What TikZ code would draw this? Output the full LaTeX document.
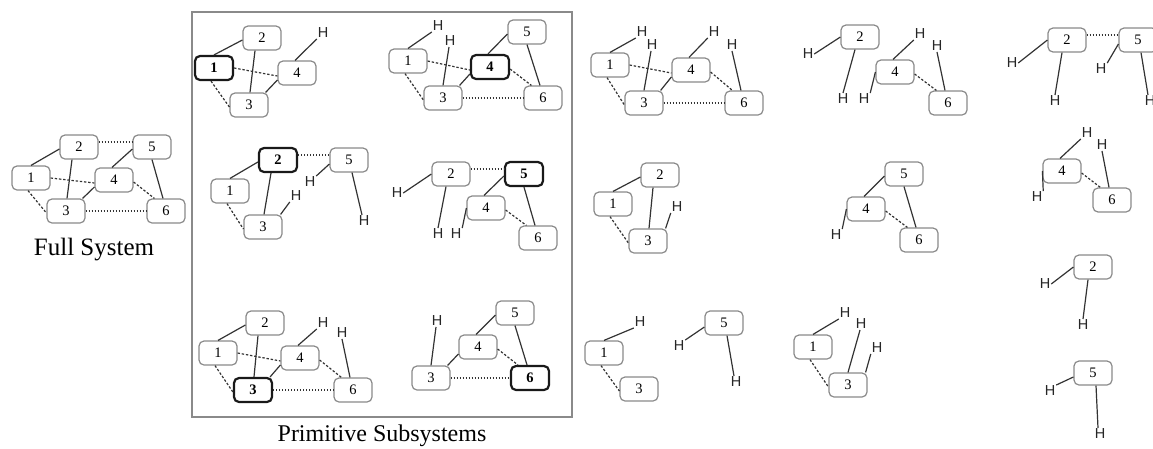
\documentclass[tikz,border=0pt]{standalone}
\usepackage{fontspec}
\setmainfont{Liberation Serif}
\newfontfamily\hfont{Liberation Sans}
\definecolor{boxgray}{HTML}{8A8A8A}
\definecolor{bondgray}{HTML}{333333}
% bonds between fragments, by the pair of fragment numbers they join
\newcommand\bdOneTwo[1]{\draw[sb] (#11.north) -- ([yshift=-2pt]#12.west);}
\newcommand\bdTwoThree[1]{\draw[sb] ([xshift=-7pt]#12.south) -- ([xshift=1pt]#13.north);}
\newcommand\bdTwoFive[1]{\draw[dt] ([yshift=5pt]#12.east) -- ([yshift=5pt]#15.west);}
\newcommand\bdFiveFour[1]{\draw[sb] ([yshift=-2pt]#15.west) -- ([xshift=-2pt]#14.north);}
\newcommand\bdFiveSix[1]{\draw[sb] (#15.south) -- ([xshift=-3pt]#16.north);}
\newcommand\bdOneFour[1]{\draw[db] (#11.east) -- ([yshift=-3pt]#14.west);}
\newcommand\bdOneThree[1]{\draw[db] ([xshift=-3pt]#11.south) -- ([yshift=-2pt]#13.west);}
\newcommand\bdThreeFour[1]{\draw[sb] ([xshift=-3pt]#13.north east) -- ([yshift=-7pt]#14.west);}
\newcommand\bdFourSix[1]{\draw[db] ([yshift=-2pt]#14.east) -- ([xshift=8pt]#16.north west);}
\newcommand\bdThreeSix[1]{\draw[dt] (#13.east) -- (#16.west);}
\begin{document}
\begin{tikzpicture}[x=1pt,y=-1pt,
  bx/.style={draw=boxgray, line width=1.2pt, rounded corners=5pt,
    minimum width=38pt, minimum height=24pt, inner sep=0pt, fill=white,
    font=\fontsize{14.5}{15}\selectfont},
  bbx/.style={bx, draw=black!90, line width=2.2pt,
    font=\fontsize{14.5}{15}\selectfont\bfseries},
  hat/.style={font=\hfont\fontsize{14.5}{14.5}\selectfont, inner sep=0.8pt, text=black!85},
  sb/.style={draw=bondgray, line width=1.2pt},
  db/.style={draw=bondgray, line width=1.2pt, dash pattern=on 2.4pt off 1.8pt},
  dt/.style={draw=bondgray, line width=1.1pt, dash pattern=on 1.2pt off 1.8pt},
  lbl/.style={font=\fontsize{25}{25}\selectfont, inner sep=0pt, anchor=base},
  frame/.style={draw=boxgray, line width=1.2pt}]
\useasboundingbox (0,0) rectangle (1153,448);

% ---------- full system ----------
\node[bx] (f1) at (31,178) {1};
\node[bx] (f2) at (79,147) {2};
\node[bx] (f3) at (66,211) {3};
\node[bx] (f4) at (114,180) {4};
\node[bx] (f5) at (152,147) {5};
\node[bx] (f6) at (166,211) {6};
\bdOneTwo{f}\bdTwoThree{f}\bdTwoFive{f}\bdFiveFour{f}\bdFiveSix{f}
\bdOneFour{f}\bdOneThree{f}\bdThreeFour{f}\bdFourSix{f}\bdThreeSix{f}
\node[lbl] (fl) at (94,255) {Full System};

% ---------- primitive subsystems ----------
\draw[frame] (192,12) rectangle (572,417);
\node[lbl, font=\fontsize{24}{24}\selectfont] (pl) at (382,441) {Primitive Subsystems};

% centred on 1
\node[bbx] (a1) at (214,68) {1};
\node[bx] (a2) at (262,38) {2};
\node[bx] (a3) at (249,105) {3};
\node[bx] (a4) at (297,73) {4};
\node[hat] (aH4) at (323,33) {H};
\bdOneTwo{a}\bdTwoThree{a}\bdOneFour{a}\bdOneThree{a}\bdThreeFour{a}
\draw[sb] ([xshift=-2pt]a4.north) -- (aH4.south west);

% centred on 4
\node[bx] (b1) at (408,61) {1};
\node[bx] (b3) at (443,98) {3};
\node[bbx] (b4) at (490,67) {4};
\node[bx] (b5) at (527,32) {5};
\node[bx] (b6) at (543,98) {6};
\node[hat] (bH1) at (438,26) {H};
\node[hat] (bH3) at (450,41) {H};
\bdOneFour{b}\bdOneThree{b}\bdThreeFour{b}\bdFiveFour{b}\bdFiveSix{b}
\bdFourSix{b}\bdThreeSix{b}
\draw[sb] (b1.north) -- (bH1.south west);
\draw[sb] (b3.north) -- ([xshift=-1pt]bH3.south);

% centred on 2
\node[bx] (c1) at (230,191) {1};
\node[bbx] (c2) at (278,160) {2};
\node[bx] (c3) at (263,227) {3};
\node[bx] (c5) at (349,160) {5};
\node[hat] (cH3) at (296,196) {H};
\node[hat] (cH5a) at (310,182) {H};
\node[hat] (cH5b) at (364,221) {H};
\bdOneTwo{c}\bdTwoThree{c}\bdTwoFive{c}\bdOneThree{c}
\draw[sb] ([xshift=-2pt]c3.north east) -- (cH3.south west);
\draw[sb] ([yshift=-4pt]c5.west) -- (cH5a.north east);
\draw[sb] ([xshift=3pt]c5.south) -- ([xshift=-2pt]cH5b.north);

% centred on 5
\node[bx] (d2) at (451,174) {2};
\node[bx] (d4) at (486,208) {4};
\node[bbx] (d5) at (524,174) {5};
\node[bx] (d6) at (538,238) {6};
\node[hat] (dH2a) at (397,193) {H};
\node[hat] (dH2b) at (438,234) {H};
\node[hat] (dH4) at (456,234) {H};
\bdTwoFive{d}\bdFiveFour{d}\bdFiveSix{d}\bdFourSix{d}
\draw[sb] (d2.west) -- (dH2a.east);
\draw[sb] ([xshift=-5pt]d2.south) -- (dH2b.north);
\draw[sb] (d4.west) -- (dH4.north east);

% centred on 3
\node[bx] (e1) at (218,353) {1};
\node[bx] (e2) at (265,323) {2};
\node[bbx] (e3) at (253,390) {3};
\node[bx] (e4) at (300,358) {4};
\node[bx] (e6) at (353,390) {6};
\node[hat] (eH4) at (323,323) {H};
\node[hat] (eH6) at (342,333) {H};
\bdOneTwo{e}\bdTwoThree{e}\bdOneFour{e}\bdOneThree{e}\bdThreeFour{e}
\bdFourSix{e}\bdThreeSix{e}
\draw[sb] ([xshift=-2pt]e4.north) -- (eH4.south west);
\draw[sb] ([xshift=-3pt]e6.north) -- (eH6.south);

% centred on 6
\node[bx] (g3) at (431,378) {3};
\node[bx] (g4) at (478,347) {4};
\node[bx] (g5) at (515,313) {5};
\node[bbx] (g6) at (530,378) {6};
\node[hat] (gH3) at (437,321) {H};
\bdThreeFour{g}\bdFiveFour{g}\bdFiveSix{g}\bdFourSix{g}\bdThreeSix{g}
\draw[sb] (g3.north) -- ([xshift=-1pt]gH3.south);

% ---------- fragments ----------
% 1-3-4-6
\node[bx] (h1) at (610,65) {1};
\node[bx] (h3) at (644,103) {3};
\node[bx] (h4) at (691,70) {4};
\node[bx] (h6) at (744,103) {6};
\node[hat] (hH1) at (642,32) {H};
\node[hat] (hH3) at (652,45) {H};
\node[hat] (hH4) at (714,32) {H};
\node[hat] (hH6) at (732,45) {H};
\bdOneFour{h}\bdOneThree{h}\bdThreeFour{h}\bdFourSix{h}\bdThreeSix{h}
\draw[sb] (h1.north) -- (hH1.south west);
\draw[sb] (h3.north) -- ([xshift=-1pt]hH3.south);
\draw[sb] ([xshift=-2pt]h4.north) -- (hH4.south west);
\draw[sb] ([xshift=-3pt]h6.north) -- (hH6.south);

% 2 / 4-6
\node[bx] (i2) at (860,37) {2};
\node[bx] (i4) at (895,72) {4};
\node[bx] (i6) at (948,103) {6};
\node[hat] (iH2a) at (808,54) {H};
\node[hat] (iH2b) at (843,99) {H};
\node[hat] (iH4a) at (864,99) {H};
\node[hat] (iH4b) at (920,34) {H};
\node[hat] (iH6) at (937,46) {H};
\bdFourSix{i}
\draw[sb] (i2.west) -- (iH2a.east);
\draw[sb] ([xshift=-5pt]i2.south) -- (iH2b.north);
\draw[sb] (i4.west) -- (iH4a.north east);
\draw[sb] ([xshift=-2pt]i4.north) -- (iH4b.south west);
\draw[sb] ([xshift=-3pt]i6.north) -- (iH6.south);

% 2-5
\node[bx] (j2) at (1067,40) {2};
\node[bx] (j5) at (1138,40) {5};
\node[hat] (jH2a) at (1012,63) {H};
\node[hat] (jH2b) at (1055,101) {H};
\node[hat] (jH5a) at (1101,69) {H};
\node[hat] (jH5b) at (1150,101) {H};
\bdTwoFive{j}
\draw[sb] (j2.west) -- (jH2a.east);
\draw[sb] ([xshift=-5pt]j2.south) -- (jH2b.north);
\draw[sb] ([yshift=-4pt]j5.west) -- (jH5a.north east);
\draw[sb] ([xshift=3pt]j5.south) -- ([xshift=-2pt]jH5b.north);

% 1-2-3
\node[bx] (k1) at (613,204) {1};
\node[bx] (k2) at (660,175) {2};
\node[bx] (k3) at (648,241) {3};
\node[hat] (kH3) at (677,207) {H};
\bdOneTwo{k}\bdTwoThree{k}\bdOneThree{k}
\draw[sb] ([xshift=-2pt]k3.north east) -- (kH3.south west);

% 4-5-6
\node[bx] (l4) at (866,209) {4};
\node[bx] (l5) at (904,174) {5};
\node[bx] (l6) at (919,240) {6};
\node[hat] (lH4) at (836,235) {H};
\bdFiveFour{l}\bdFiveSix{l}\bdFourSix{l}
\draw[sb] (l4.west) -- (lH4.north east);

% 4-6
\node[bx] (m4) at (1062,171) {4};
\node[bx] (m6) at (1112,200) {6};
\node[hat] (mH4a) at (1087,133) {H};
\node[hat] (mH4b) at (1037,197) {H};
\node[hat] (mH6) at (1102,145) {H};
\bdFourSix{m}
\draw[sb] ([xshift=-2pt]m4.north) -- (mH4a.south west);
\draw[sb] (m4.west) -- (mH4b.north east);
\draw[sb] ([xshift=-3pt]m6.north) -- (mH6.south);

% 2 alone
\node[bx] (n2) at (1093,267) {2};
\node[hat] (nH2a) at (1045,284) {H};
\node[hat] (nH2b) at (1083,325) {H};
\draw[sb] (n2.west) -- (nH2a.east);
\draw[sb] ([xshift=-5pt]n2.south) -- (nH2b.north);

% 5 alone
\node[bx] (o5) at (1093,373) {5};
\node[hat] (oH5a) at (1050,391) {H};
\node[hat] (oH5b) at (1100,434) {H};
\draw[sb] ([yshift=-4pt]o5.west) -- (oH5a.north east);
\draw[sb] ([xshift=3pt]o5.south) -- ([xshift=-2pt]oH5b.north);

% 1-3
\node[bx] (p1) at (604,353) {1};
\node[bx] (p3) at (639,389) {3};
\node[hat] (pH1) at (640,322) {H};
\bdOneThree{p}
\draw[sb] (p1.north) -- (pH1.south west);

% 5 alone
\node[bx] (q5) at (724,323) {5};
\node[hat] (qH5a) at (679,346) {H};
\node[hat] (qH5b) at (736,382) {H};
\draw[sb] ([yshift=-4pt]q5.west) -- (qH5a.north east);
\draw[sb] ([xshift=3pt]q5.south) -- ([xshift=-2pt]qH5b.north);

% 1-3 with hydrogens
\node[bx] (r1) at (813,347) {1};
\node[bx] (r3) at (848,385) {3};
\node[hat] (rH1) at (845,313) {H};
\node[hat] (rH3a) at (861,324) {H};
\node[hat] (rH3b) at (877,348) {H};
\bdOneThree{r}
\draw[sb] (r1.north) -- (rH1.south west);
\draw[sb] (r3.north) -- ([xshift=-1pt]rH3a.south);
\draw[sb] ([xshift=-2pt]r3.north east) -- (rH3b.south west);
\end{tikzpicture}
\end{document}
